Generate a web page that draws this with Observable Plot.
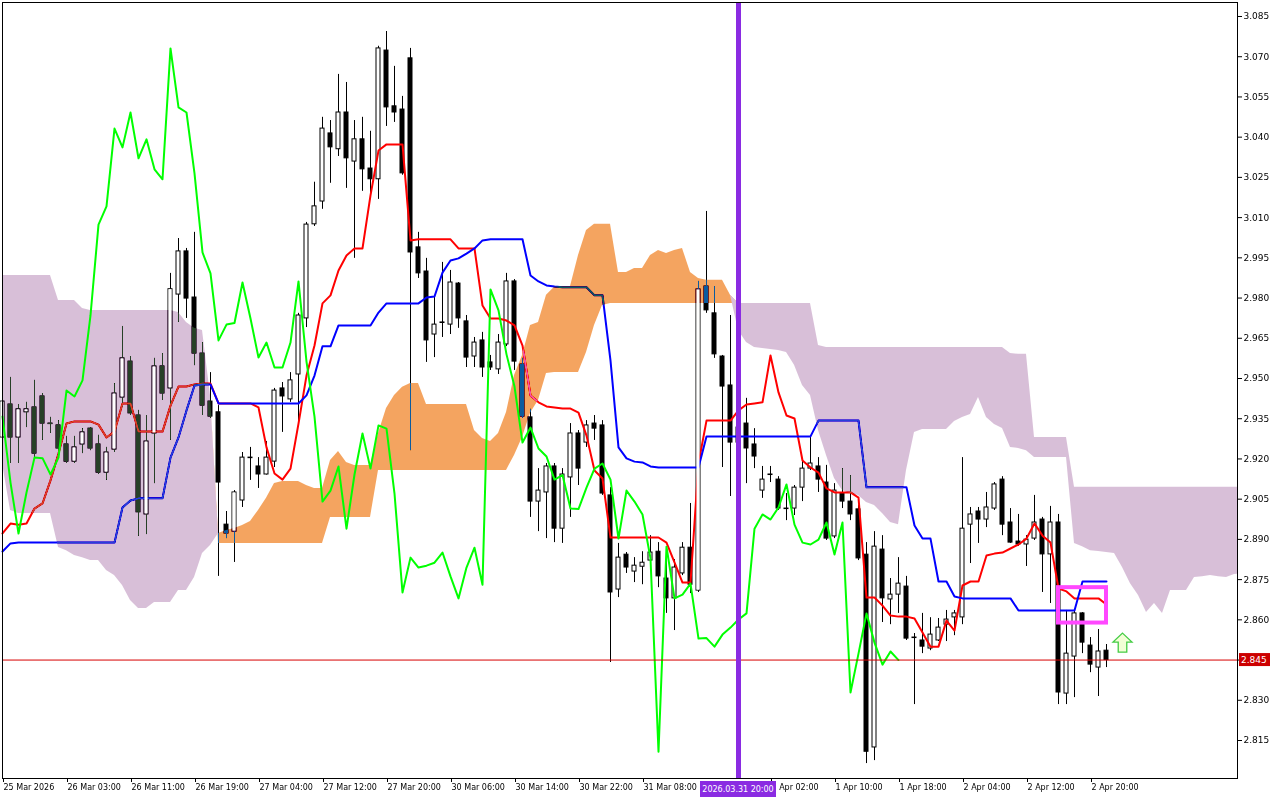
<!DOCTYPE html>
<html><head><meta charset="utf-8">
<script src="https://cdn.jsdelivr.net/npm/d3@7"></script>
<script src="https://cdn.jsdelivr.net/npm/@observablehq/plot@0.6"></script>
<style>
html,body{margin:0;padding:0;background:#fff;}
#chart{width:1280px;height:800px;overflow:hidden;}
</style></head><body><div id="chart"></div>
<script>
// ---- Data (hourly candles, index 0 = 25 Mar 2026 ...) ----
const opens = [2.9280,2.9403,2.9280,2.9374,2.9392,2.9433,2.9332,2.9325,2.9254,2.9190,
2.9254,2.9313,2.9254,2.9149,2.9235,2.9429,2.9563,2.9362,2.8993,2.9295,
2.9545,2.9463,2.9813,2.9974,2.9802,2.9593,2.9414,2.9374,2.8955,2.8929,
2.9045,2.9205,2.9172,2.9142,2.9190,2.9463,2.9422,2.9515,2.9724,3.0075,
3.0160,3.0414,3.0355,3.0492,3.0309,3.0392,3.0283,3.0243,3.0723,3.0515,
3.0503,3.0694,2.9989,2.9899,2.9664,2.9709,2.9701,2.9854,2.9713,2.9582,
2.9642,2.9560,2.9534,2.9627,2.9862,2.9552,2.9355,2.9041,2.9075,2.9172,
2.8940,2.9131,2.9295,2.9261,2.9332,2.9325,2.9064,2.8713,2.8843,2.8780,
2.8798,2.8821,2.8854,2.8754,2.8680,2.8773,2.8869,2.8709,2.9843,2.9743,
2.9582,2.9474,2.9261,2.9332,2.9254,2.9082,2.9142,2.9123,2.9015,2.9015,
2.9093,2.9164,2.9172,2.9112,2.8911,2.9071,2.9041,2.9012,2.8843,2.8124,
2.8862,2.8676,2.8694,2.8724,2.8534,2.8523,2.8493,2.8523,2.8582,2.8609,
2.8609,2.8955,2.9004,2.8974,2.9015,2.9123,2.8963,2.8892,2.8881,2.8903,
2.8974,2.8844,2.8963,2.8325,2.8463,2.8624,2.8504,2.8422,2.8485];
const highs = [2.9436,2.9504,2.9403,2.9411,2.9493,2.9444,2.9355,2.9343,2.9284,2.9284,
2.9313,2.9317,2.9288,2.9243,2.9481,2.9694,2.9582,2.9381,2.9362,2.9575,
2.9593,2.9892,3.0022,2.9985,3.0045,2.9634,2.9522,2.9399,2.9004,2.9082,
2.9224,2.9243,2.9205,2.9265,2.9463,2.9485,2.9522,2.9743,3.0082,3.0232,
3.0474,3.0462,3.0634,3.0604,3.0462,3.0474,3.0422,3.0739,3.0794,3.0664,
3.0552,3.0731,3.0045,2.9948,2.9802,2.9933,2.9903,2.9858,2.9735,2.9653,
2.9672,2.9586,2.9664,2.9892,2.9869,2.9575,2.9385,2.9164,2.9183,2.9183,
2.9164,2.9332,2.9306,2.9343,2.9362,2.9343,2.9093,2.8885,2.8851,2.8832,
2.8854,2.8914,2.8888,2.8832,2.8825,2.8888,2.9034,2.9862,3.0123,2.9843,
2.9586,2.9735,2.9343,2.9426,2.9313,2.9172,2.9172,2.9134,2.9071,2.9101,
2.9194,2.9280,2.9205,2.9176,2.9108,2.9164,2.9138,2.9026,2.8888,2.8929,
2.8914,2.8754,2.8832,2.8762,2.8549,2.8624,2.8608,2.8605,2.8635,2.8635,
2.9205,2.9019,2.9019,2.9075,2.9112,2.9134,2.9015,2.8993,2.8914,2.9064,
2.8982,2.9023,2.8993,2.8635,2.8635,2.8627,2.8534,2.8564,2.8508];
const lows = [2.9269,2.9183,2.9183,2.9317,2.9201,2.9269,2.9295,2.9231,2.9183,2.9183,
2.9220,2.9231,2.9142,2.9120,2.9224,2.9392,2.9362,2.8911,2.8918,2.9108,
2.9418,2.9269,2.9709,2.9724,2.9548,2.9362,2.9351,2.8762,2.8903,2.8814,
2.9019,2.9120,2.9090,2.9140,2.9168,2.9299,2.9411,2.9332,2.9690,3.0067,
3.0131,3.0228,3.0328,3.0209,2.9948,3.0198,3.0190,3.0168,3.0440,3.0455,
3.0258,2.9231,2.9873,2.9560,2.9578,2.9653,2.9664,2.9687,2.9541,2.9541,
2.9504,2.9530,2.9515,2.9619,2.9530,2.9351,2.8982,2.8929,2.8903,2.8888,
2.8885,2.8982,2.9101,2.9243,2.9269,2.9064,2.8441,2.8683,2.8773,2.8739,
2.8731,2.8813,2.8720,2.8624,2.8560,2.8765,2.8698,2.8702,2.9743,2.9575,
2.9168,2.9060,2.9231,2.9108,2.9164,2.9053,2.9112,2.9008,2.8970,2.8989,
2.9041,2.9157,2.9075,2.8896,2.8903,2.9015,2.8970,2.8821,2.8064,2.8075,
2.8590,2.8582,2.8624,2.8523,2.8284,2.8474,2.8485,2.8519,2.8519,2.8541,
2.8582,2.8810,2.8885,2.8944,2.9008,2.8914,2.8885,2.8874,2.8799,2.8896,
2.8702,2.8661,2.8284,2.8284,2.8310,2.8474,2.8403,2.8314,2.8422];
const closes = [2.9414,2.9280,2.9385,2.9385,2.9220,2.9332,2.9330,2.9239,2.9190,2.9243,
2.9299,2.9239,2.9149,2.9224,2.9444,2.9575,2.9370,2.9001,2.9265,2.9545,
2.9444,2.9833,2.9974,2.9798,2.9593,2.9399,2.9358,2.9112,2.8922,2.9075,
2.9205,2.9203,2.9142,2.9205,2.9455,2.9433,2.9493,2.9735,3.0074,3.0142,
3.0432,3.0362,3.0492,3.0321,3.0392,3.0280,3.0243,3.0731,3.0511,3.0492,
3.0265,2.9970,2.9892,2.9642,2.9701,2.9707,2.9858,2.9724,2.9578,2.9634,
2.9541,2.9541,2.9634,2.9862,2.9563,2.9358,2.9041,2.9082,2.9172,2.8940,
2.9142,2.9295,2.9164,2.9325,2.9313,2.9071,2.8702,2.8832,2.8795,2.8802,
2.8813,2.8851,2.8762,2.8680,2.8795,2.8869,2.8731,2.9832,2.9754,2.9590,
2.9470,2.9261,2.9317,2.9239,2.9209,2.9123,2.9140,2.9015,2.9013,2.9093,
2.9164,2.9183,2.9123,2.8903,2.9082,2.9041,2.8993,2.8829,2.8108,2.8873,
2.8680,2.8694,2.8735,2.8530,2.8532,2.8500,2.8545,2.8571,2.8601,2.8624,
2.8940,2.8993,2.8974,2.9019,2.9105,2.8955,2.8888,2.8881,2.8899,2.8963,
2.8844,2.8963,2.8329,2.8474,2.8624,2.8515,2.8433,2.8482,2.8450];
// Tenkan-sen (red)
const tenkan = [2.8922,2.8959,2.8955,2.8959,2.9015,2.9034,2.9120,2.9220,2.9332,2.9340,
2.9340,2.9340,2.9328,2.9280,2.9302,2.9407,2.9407,2.9302,2.9302,2.9302,
2.9302,2.9399,2.9470,2.9470,2.9478,2.9481,2.9481,2.9407,2.9407,2.9407,
2.9407,2.9407,2.9392,2.9243,2.9146,2.9123,2.9164,2.9332,2.9511,2.9623,
2.9780,2.9810,2.9903,2.9959,2.9985,2.9985,3.0183,3.0350,3.0373,3.0373,
3.0373,3.0015,3.0019,3.0019,3.0019,3.0019,3.0019,2.9985,2.9985,2.9985,
2.9772,2.9724,2.9724,2.9716,2.9698,2.9623,2.9437,2.9411,2.9396,2.9392,
2.9388,2.9388,2.9373,2.9287,2.9157,2.9127,2.8907,2.8907,2.8907,2.8907,
2.8907,2.8907,2.8907,2.8888,2.8814,2.8739,2.8739,2.9183,2.9343,2.9343,
2.9343,2.9343,2.9381,2.9403,2.9407,2.9411,2.9586,2.9448,2.9362,2.9351,
2.9194,2.9168,2.9149,2.9090,2.9075,2.9075,2.9075,2.9056,2.8683,2.8683,
2.8653,2.8616,2.8612,2.8612,2.8605,2.8553,2.8500,2.8500,2.8597,2.8560,
2.8728,2.8743,2.8743,2.8840,2.8847,2.8851,2.8866,2.8881,2.8903,2.8959,
2.8914,2.8888,2.8717,2.8706,2.8680,2.8680,2.8680,2.8680,2.8657];
// Kijun-sen (blue)
const kijun = [2.8855,2.8885,2.8888,2.8888,2.8888,2.8888,2.8888,2.8888,2.8888,2.8888,
2.8888,2.8888,2.8888,2.8888,2.8888,2.9019,2.9045,2.9053,2.9053,2.9053,
2.9053,2.9205,2.9280,2.9381,2.9474,2.9478,2.9478,2.9407,2.9407,2.9407,
2.9407,2.9407,2.9407,2.9407,2.9407,2.9407,2.9407,2.9407,2.9437,2.9511,
2.9620,2.9620,2.9698,2.9698,2.9698,2.9698,2.9698,2.9746,2.9780,2.9780,
2.9780,2.9780,2.9780,2.9802,2.9806,2.9895,2.9940,2.9948,2.9966,2.9985,
3.0015,3.0019,3.0019,3.0019,3.0019,3.0019,2.9884,2.9862,2.9847,2.9843,
2.9840,2.9840,2.9840,2.9840,2.9810,2.9810,2.9567,2.9243,2.9202,2.9190,
2.9187,2.9172,2.9168,2.9168,2.9168,2.9168,2.9168,2.9168,2.9284,2.9284,
2.9284,2.9284,2.9284,2.9284,2.9284,2.9284,2.9284,2.9284,2.9284,2.9284,
2.9284,2.9284,2.9343,2.9343,2.9343,2.9343,2.9343,2.9343,2.9094,2.9094,
2.9094,2.9094,2.9094,2.9094,2.8952,2.8903,2.8903,2.8743,2.8743,2.8687,
2.8680,2.8680,2.8680,2.8680,2.8680,2.8680,2.8680,2.8635,2.8635,2.8635,
2.8635,2.8635,2.8635,2.8635,2.8635,2.8743,2.8743,2.8743,2.8743];
// Senkou Span A / B (already displaced 26 bars forward)
const spanA = [2.9183,2.9008,2.8997,2.8997,2.8997,2.8997,2.8997,2.8870,2.8858,2.8840,
2.8832,2.8821,2.8821,2.8784,2.8765,2.8728,2.8672,2.8642,2.8642,2.8665,
2.8665,2.8665,2.8709,2.8709,2.8758,2.8847,2.8877,2.8922,2.8933,2.8941,
2.8952,2.8967,2.9008,2.9053,2.9108,2.9116,2.9116,2.9116,2.9101,2.9090,
2.9090,2.9194,2.9228,2.9187,2.9176,2.9176,2.9176,2.9295,2.9388,2.9437,
2.9467,2.9481,2.9481,2.9403,2.9403,2.9403,2.9403,2.9403,2.9403,2.9306,
2.9276,2.9265,2.9295,2.9373,2.9511,2.9586,2.9698,2.9709,2.9810,2.9840,
2.9843,2.9843,2.9959,3.0052,3.0075,3.0075,3.0075,2.9895,2.9895,2.9910,
2.9910,2.9959,2.9977,2.9966,2.9977,2.9985,2.9895,2.9873,2.9866,2.9866,
2.9866,2.9810,2.9679,2.9634,2.9616,2.9612,2.9608,2.9604,2.9597,2.9549,
2.9474,2.9437,2.9306,2.9213,2.9127,2.9082,2.9071,2.9064,2.9038,2.9026,
2.8997,2.8963,2.8955,2.9157,2.9299,2.9310,2.9310,2.9310,2.9310,2.9340,
2.9355,2.9366,2.9429,2.9355,2.9328,2.9314,2.9243,2.9239,2.9231,2.9205,
2.9205,2.9205,2.9205,2.9205,2.8885,2.8873,2.8858,2.8855,2.8851,2.8847,
2.8795,2.8735,2.8691,2.8627,2.8661,2.8624,2.8709,2.8709,2.8709,2.8758,
2.8761,2.8765,2.8761,2.8758,2.8769,2.8772];
const spanB = [2.9884,2.9884,2.9884,2.9884,2.9884,2.9884,2.9884,2.9791,2.9791,2.9791,
2.9761,2.9754,2.9754,2.9754,2.9754,2.9754,2.9754,2.9754,2.9754,2.9754,
2.9754,2.9754,2.9746,2.9709,2.9687,2.9679,2.9437,2.8885,2.8885,2.8885,
2.8885,2.8885,2.8885,2.8885,2.8885,2.8885,2.8885,2.8885,2.8885,2.8885,
2.8885,2.8982,2.8982,2.8982,2.8982,2.8982,2.8982,2.9157,2.9157,2.9157,
2.9157,2.9157,2.9157,2.9157,2.9157,2.9157,2.9157,2.9157,2.9157,2.9157,
2.9157,2.9157,2.9157,2.9157,2.9213,2.9280,2.9370,2.9418,2.9519,2.9522,
2.9522,2.9522,2.9522,2.9597,2.9698,2.9772,2.9780,2.9780,2.9780,2.9780,
2.9780,2.9780,2.9780,2.9780,2.9780,2.9780,2.9780,2.9780,2.9780,2.9780,
2.9780,2.9780,2.9780,2.9780,2.9780,2.9780,2.9780,2.9780,2.9780,2.9780,
2.9780,2.9780,2.9623,2.9616,2.9616,2.9616,2.9616,2.9616,2.9616,2.9616,
2.9616,2.9616,2.9616,2.9616,2.9616,2.9616,2.9616,2.9616,2.9616,2.9616,
2.9616,2.9616,2.9616,2.9616,2.9616,2.9616,2.9593,2.9590,2.9590,2.9280,
2.9280,2.9280,2.9280,2.9280,2.9094,2.9094,2.9094,2.9094,2.9094,2.9094,
2.9094,2.9094,2.9094,2.9094,2.9094,2.9094,2.9094,2.9094,2.9094,2.9094,
2.9094,2.9094,2.9094,2.9094,2.9094,2.9094];
const chikouShift = 26;
const priceTicks = [2.815,2.830,2.845,2.860,2.875,2.890,2.905,2.920,2.935,2.950,2.965,2.980,2.995,3.010,3.025,3.040,3.055,3.070,3.085];
const timeTickIndex = [0,8,16,24,32,40,48,56,64,72,80,96,104,112,120,128,136];
const timeTickLabels = ["25 Mar 2026","26 Mar 03:00","26 Mar 11:00","26 Mar 19:00","27 Mar 04:00","27 Mar 12:00","27 Mar 20:00","30 Mar 06:00","30 Mar 14:00","30 Mar 22:00","31 Mar 08:00","1 Apr 02:00","1 Apr 10:00","1 Apr 18:00","2 Apr 04:00","2 Apr 12:00","2 Apr 20:00"];
const currentPrice = 2.845;
const markerIndex = 92;
const markerLabel = "2026.03.31 20:00";
const boxIndex = [132, 138];
const boxPrice = [2.8588, 2.8720];
const arrowIndex = 140;
const arrowPrice = 2.8515;

// ---- Build tables ----
const candles = closes.map((c, i) => ({i, o: opens[i], h: highs[i], l: lows[i], c}));
const bull = candles.filter(d => d.c >= d.o);
const bear = candles.filter(d => d.c < d.o);
const cloud = spanA.map((a, i) => ({i, a, b: spanB[i], top: Math.max(a, spanB[i])}));
const bullInCloud = bull.filter(d => {
  const k = cloud[d.i]; const lo = Math.min(k.a, k.b), hi = Math.max(k.a, k.b);
  return Math.max(d.o, d.c) > lo && Math.min(d.o, d.c) < hi;
});
const chikou = closes.slice(chikouShift).map((v, i) => ({i, v}));
const tk = tenkan.map((v, i) => ({i, v}));
const kj = kijun.map((v, i) => ({i, v}));
const labelOf = new Map(timeTickIndex.map((t, k) => [t, timeTickLabels[k]]));

const hw = 0.25;
const arrowSymbol = {draw(ctx, size) {
  const r = Math.sqrt(size / Math.PI);
  ctx.moveTo(0, -r); ctx.lineTo(r, -0.05 * r); ctx.lineTo(0.45 * r, -0.05 * r);
  ctx.lineTo(0.45 * r, r); ctx.lineTo(-0.45 * r, r); ctx.lineTo(-0.45 * r, -0.05 * r);
  ctx.lineTo(-r, -0.05 * r); ctx.closePath();
}};

const plot = Plot.plot({
  width: 1280, height: 800,
  marginLeft: 2, marginRight: 43, marginTop: 2, marginBottom: 22,
  style: {fontFamily: "DejaVu Sans", fontSize: "9px", background: "white", overflow: "visible", color: "black", isolation: "isolate"},
  x: {domain: [0, 154.375], axis: null},
  y: {domain: [2.80083, 3.09022], axis: null},
  marks: [
    Plot.frame({fill: "white"}),
    Plot.ruleX(candles, {x: "i", y1: "l", y2: "h", stroke: "black", strokeWidth: 1}),
    Plot.rect(bear, {x1: d => d.i - hw, x2: d => d.i + hw, y1: "o", y2: "c", fill: "black", stroke: "black", strokeWidth: 1}),
    Plot.rect(bull, {x1: d => d.i - hw, x2: d => d.i + hw, y1: "o", y2: "c", fill: "white", stroke: "black", strokeWidth: 1}),
    Plot.line(tk, {x: "i", y: "v", stroke: "#ff0000", strokeWidth: 2}),
    Plot.line(kj, {x: "i", y: "v", stroke: "#0000ff", strokeWidth: 2}),
    // white interiors of bullish candles that sit inside the cloud (the cloud is inserted just before this mark)
    Plot.rect(bullInCloud, {x1: d => d.i - hw, x2: d => d.i + hw, y1: "o", y2: "c", fill: "#fffffe", inset: 0.5}),
    Plot.line(chikou, {x: "i", y: "v", stroke: "#00ff00", strokeWidth: 2}),
    Plot.ruleY([currentPrice], {stroke: "#d80000", strokeWidth: 1}),
    Plot.rect([0], {x1: () => boxIndex[0], x2: () => boxIndex[1], y1: () => boxPrice[0], y2: () => boxPrice[1], fill: "none", stroke: "#ff48ff", strokeWidth: 4}),
    Plot.dot([0], {x: () => arrowIndex, y: () => arrowPrice, r: 9.5, symbol: arrowSymbol, stroke: "#44cc44", fill: "#f2ffd6", strokeWidth: 1.3}),
    Plot.ruleX([markerIndex], {stroke: "#8a2be2", strokeWidth: 5}),
    Plot.frame({stroke: "black"}),
    Plot.axisY(priceTicks, {anchor: "right", label: null, tickSize: 4, tickPadding: 2, tickFormat: d => (d === currentPrice ? "" : d.toFixed(3)), fontSize: 9}),
    Plot.axisX(timeTickIndex, {anchor: "bottom", label: null, tickSize: 4, tickPadding: 2, textAnchor: "start", dx: 1, fontSize: 8, tickFormat: d => labelOf.get(d)})
  ]
});

const xs = plot.scale("x"), ys = plot.scale("y");
const svg = d3.select(plot);

// ---- Kumo (cloud), drawn with Plot's scales; painted like MT5 (inverting what lies under it) ----
const clipId = "kumo-clip";
svg.insert("defs", ":first-child").append("clipPath").attr("id", clipId)
  .append("rect").attr("x", xs.range[0]).attr("y", ys.range[1])
  .attr("width", xs.range[1] - xs.range[0]).attr("height", ys.range[0] - ys.range[1]);
const areaUp = d3.area().x(d => xs.apply(d.i)).y0(d => ys.apply(d.b)).y1(d => ys.apply(d.top));
const areaDown = d3.area().x(d => xs.apply(d.i)).y0(d => ys.apply(d.a)).y1(d => ys.apply(d.top));
const anchorNode = Array.from(plot.children).find(n => n.getAttribute && n.getAttribute("fill") === "#fffffe")
  || Array.from(plot.children).find(n => n.getAttribute && n.getAttribute("stroke") === "#00ff00") || null;
const kumoNode = document.createElementNS("http://www.w3.org/2000/svg", "g");
plot.insertBefore(kumoNode, anchorNode);
const kumo = d3.select(kumoNode).attr("clip-path", `url(#${clipId})`).style("mix-blend-mode", "difference");
// difference with these colours turns white into sandy brown (#f4a460) and thistle (#d8bfd8)
kumo.append("path").attr("d", areaUp(cloud)).attr("fill", "#0b5b9f");
kumo.append("path").attr("d", areaDown(cloud)).attr("fill", "#274027");

// current price label on the right axis
const py = ys.apply(currentPrice);
const px = xs.range[1];
const g1 = svg.append("g");
g1.append("rect").attr("x", px + 2).attr("y", py - 6.5).attr("width", 31).attr("height", 13).attr("fill", "#cc0000");
g1.append("text").attr("x", px + 4).attr("y", py + 3.3).attr("text-anchor", "start").attr("fill", "white").attr("font-size", 9).attr("font-family", "DejaVu Sans").text(currentPrice.toFixed(3));
// vertical line time label
const mx = xs.apply(markerIndex);
const by = ys.range[0];
const g2 = svg.append("g");
g2.append("rect").attr("x", mx - 38).attr("y", by + 3).attr("width", 76).attr("height", 16).attr("fill", "#8a2be2");
g2.append("text").attr("x", mx).attr("y", by + 14).attr("text-anchor", "middle").attr("fill", "white").attr("font-size", 8).attr("font-family", "DejaVu Sans").text(markerLabel);

document.getElementById("chart").appendChild(plot);
</script>
</body></html>
